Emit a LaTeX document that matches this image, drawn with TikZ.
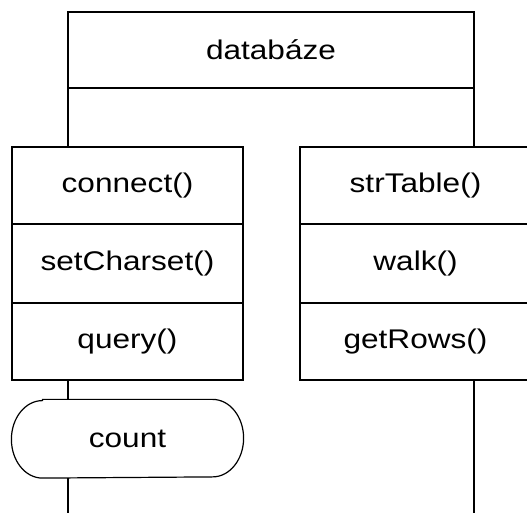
\documentclass[tikz,border=0pt]{standalone}
\usepackage{fontspec}
\setmainfont{Liberation Sans}
\begin{document}
\begin{tikzpicture}[x=1pt,y=1pt,line width=1.2pt,
  cell/.style={draw=black, rectangle, minimum width=231pt, inner sep=0pt, anchor=center},
  lbl/.style={font=\fontsize{27}{27}\selectfont},
  ]
\useasboundingbox[fill=white] (0,0) rectangle (527,513);
\newcommand{\wt}[1]{\scalebox{1.17}[1]{#1}}
% top box
\node[cell, lbl, minimum width=406pt, minimum height=76pt] (db) at (271,463) {\wt{databáze}};
% left column
\node[cell, lbl, minimum height=77pt] (connect) at (127.5,327.5) {\wt{connect()}};
\node[cell, lbl, minimum height=79pt] (setcs) at (127.5,249.5) {\wt{setCharset()}};
\node[cell, lbl, minimum height=77pt] (query) at (127.5,171.5) {\wt{query()}};
% right column
\node[cell, lbl, minimum height=77pt] (strtable) at (415.5,327.5) {\wt{strTable()}};
\node[cell, lbl, minimum height=79pt] (walk) at (415.5,249.5) {\wt{walk()}};
\node[cell, lbl, minimum height=77pt] (getrows) at (415.5,171.5) {\wt{getRows()}};
% count terminal
\node[lbl, minimum width=231pt, minimum height=77.5pt, inner sep=0pt] (count) at (127.5,74.25) {\wt{count}};
\draw ([xshift=31pt]count.north west) -- ([xshift=-31pt]count.north east)
  arc[start angle=90, end angle=-90, x radius=31pt, y radius=38.75pt]
  -- ([xshift=31pt]count.south west)
  arc[start angle=270, end angle=90, x radius=31pt, y radius=38.75pt] -- cycle;
% free ends
\coordinate (lend) at (68,0);
\coordinate (rend) at (474,0);
% connectors
\draw ([xshift=-203pt]db.south) -- (connect.north -| lend);
\draw ([xshift=203pt]db.south) -- (strtable.north -| rend);
\draw (query.south -| lend) -- (count.north -| lend);
\draw (count.south -| lend) -- (lend);
\draw (getrows.south -| rend) -- (rend);
\end{tikzpicture}
\end{document}
